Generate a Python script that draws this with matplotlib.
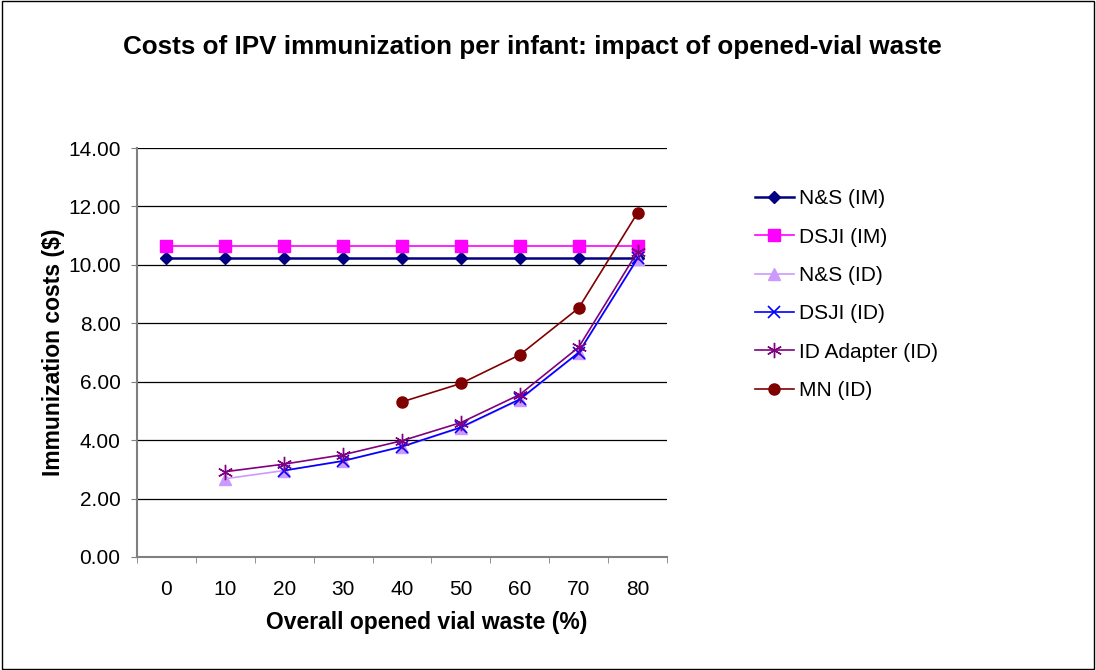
import numpy as np
import matplotlib.pyplot as plt

plt.rcParams["font.family"] = ["Liberation Sans", "DejaVu Sans"]

waste = ["0", "10", "20", "30", "40", "50", "60", "70", "80"]
ns_im = [10.24, 10.24, 10.24, 10.24, 10.24, 10.24, 10.24, 10.24, 10.24]
dsji_im = [10.63, 10.63, 10.63, 10.63, 10.63, 10.63, 10.63, 10.63, 10.63]
ns_id = [None, 2.68, 2.96, 3.28, 3.77, 4.42, 5.38, 6.98, 10.20]
dsji_id = [None, None, 2.96, 3.29, 3.78, 4.44, 5.40, 7.00, 10.22]
adapter_id = [None, 2.92, 3.18, 3.50, 3.98, 4.60, 5.56, 7.18, 10.45]
mn_id = [None, None, None, None, 5.31, 5.94, 6.92, 8.52, 11.78]


def arr(v):
    return np.array([np.nan if a is None else a for a in v], dtype=float)


fig = plt.figure(figsize=(10.96, 6.70), dpi=100)
ax = fig.add_axes([137 / 1096, 1 - 557 / 670, 530 / 1096, 409 / 670])
x = np.arange(len(waste))

ax.plot(x, arr(ns_im), color="#000080", lw=1.8, marker="D", ms=6, label="N&S (IM)")
ax.plot(x, arr(dsji_im), color="#ff00ff", lw=1.2, marker="s", ms=8, label="DSJI (IM)")
ax.plot(x, arr(ns_id), color="#cc99ff", lw=1.2, marker="^", ms=8, label="N&S (ID)")
ax.plot(x, arr(dsji_id), color="#0000ff", lw=1.2, marker="x", ms=8, mew=1.2, label="DSJI (ID)")
ax.plot(x, arr(adapter_id), color="#800080", lw=1.2, marker=(6, 2, 0), ms=11, mew=1.0,
        label="ID Adapter (ID)")
ax.plot(x, arr(mn_id), color="#800000", lw=1.2, marker="o", ms=8, label="MN (ID)")

ax.set_xlim(-0.5, len(waste) - 0.5)
ax.set_ylim(0, 14)
ax.set_yticks(np.arange(0, 14.1, 2))
ax.set_yticklabels(["%.2f" % v for v in np.arange(0, 14.1, 2)], fontsize=15)
ax.set_xticks(x)
ax.set_xticklabels(waste, fontsize=15)
ax.set_xticks(np.arange(-0.5, len(waste)), minor=True)
ax.tick_params(axis="x", which="major", length=0, pad=16.5)
ax.tick_params(axis="x", which="minor", length=4, color="#808080", direction="out")
ax.tick_params(axis="y", length=4.3, color="#808080", direction="out", pad=7.5)
ax.grid(axis="y", color="black", lw=0.9)
ax.set_axisbelow(True)
for s in ["top", "right"]:
    ax.spines[s].set_visible(False)
for s in ["left", "bottom"]:
    ax.spines[s].set_color("#808080")
    ax.spines[s].set_linewidth(1.5)

ax.set_xlabel("Overall opened vial waste (%)", fontsize=16.5, fontweight="bold")
ax.xaxis.set_label_coords(0.5466, -0.132)
ax.set_ylabel("Immunization costs ($)", fontsize=16.5, fontweight="bold")
ax.yaxis.set_label_coords(-0.136, 0.501)
fig.text(532 / 1096, 1 - 47 / 670, "Costs of IPV immunization per infant: impact of opened-vial waste",
         ha="center", va="center", fontsize=18.7, fontweight="bold")

ax.legend(loc="upper left", bbox_to_anchor=(1.13, 0.945), frameon=False, fontsize=15,
          handlelength=1.9, labelspacing=0.93, handletextpad=0.25)

fig.patches.append(plt.Rectangle((0.002, 0.002), 0.996, 0.996, transform=fig.transFigure,
                                 fill=False, edgecolor="black", lw=1.0))
fig.savefig("out.png", dpi=100)
